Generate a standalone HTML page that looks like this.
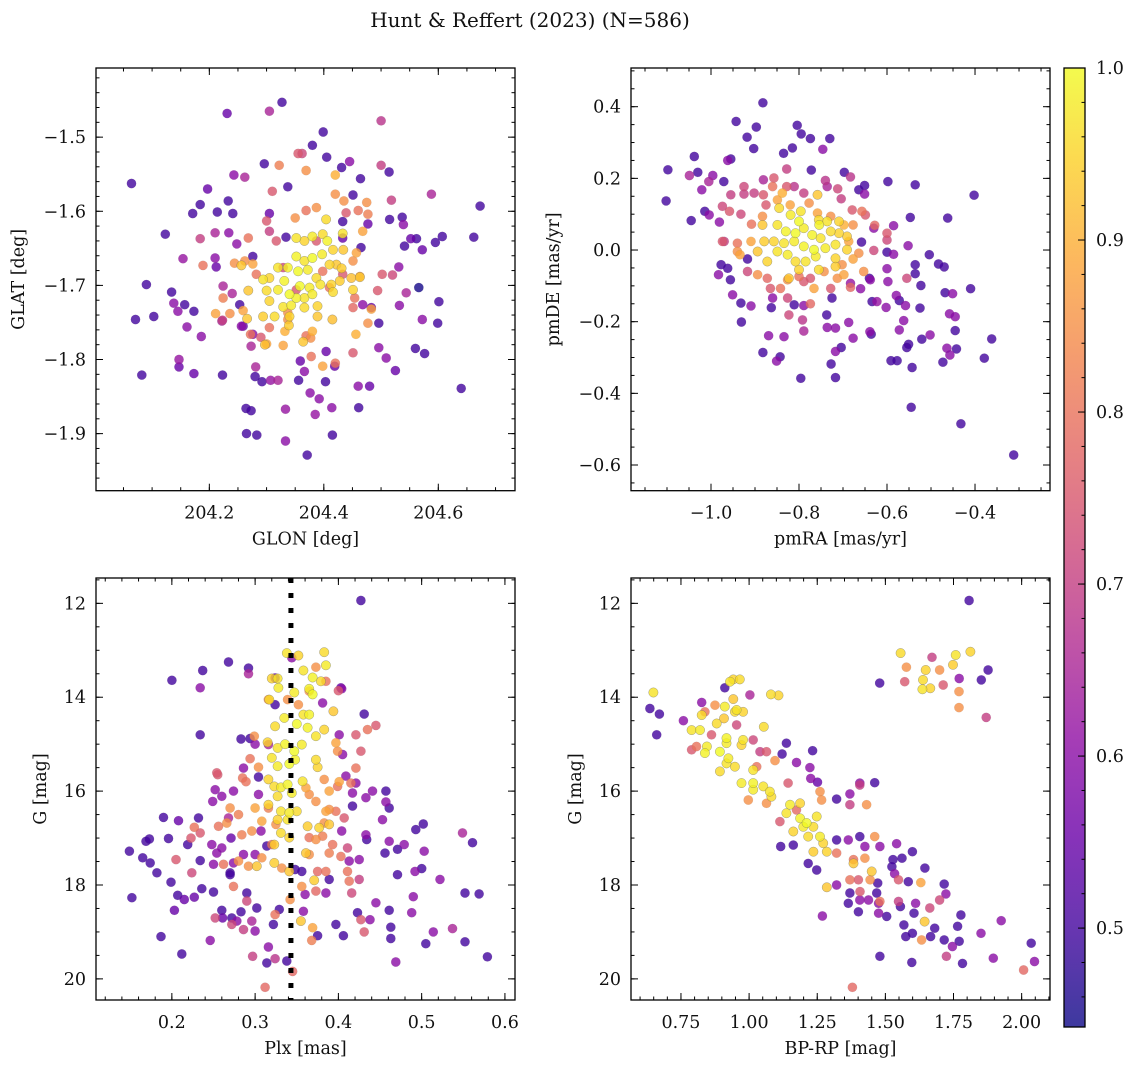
<!DOCTYPE html>
<html><head><meta charset="utf-8"><style>
html,body{margin:0;padding:0;background:#fff;}
svg{display:block;font-family:"DejaVu Serif","Liberation Serif",serif;}
</style></head><body>
<svg id="fig" width="1136" height="1067" viewBox="0 0 1136 1067" xmlns="http://www.w3.org/2000/svg">
<text x="530" y="27" text-anchor="middle" font-size="20" fill="#111">Hunt &amp; Reffert (2023) (N=586)</text>
</svg>
<script>
// ---------- DATA ----------
const skyPoints = [
[204.064,-1.5625,.5],[204.071,-1.746,.5],[204.082,-1.821,.5],[204.090,-1.699,.5],[204.103,-1.742,.5],[204.123,-1.631,.5],[204.134,-1.709,.5],[204.138,-1.724,.6],[204.145,-1.735,.6],[204.147,-1.800,.62],[204.147,-1.810,.55],[204.154,-1.664,.62],[204.157,-1.726,.5],[204.161,-1.756,.6],[204.171,-1.603,.5],[204.173,-1.735,.5],[204.173,-1.819,.55],[204.184,-1.591,.5],[204.184,-1.637,.7],[204.186,-1.769,.6],[204.197,-1.570,.55],[204.210,-1.629,.65],[204.210,-1.663,.6],[204.212,-1.675,.55],[204.214,-1.601,.5],[204.223,-1.821,.5],[204.224,-1.701,.65],[204.231,-1.468,.55],[204.233,-1.586,.5],[204.234,-1.629,.6],[204.241,-1.603,.5],[204.243,-1.551,.6],[204.253,-1.726,.5],[204.256,-1.755,.6],[204.262,-1.554,.65],[204.265,-1.900,.5],[204.264,-1.866,.5],[204.273,-1.869,.5],[204.280,-1.823,.5],[204.281,-1.810,.65],[204.283,-1.902,.5],[204.292,-1.830,.5],[204.296,-1.536,.5],[204.305,-1.465,.65],[204.307,-1.828,.62],[204.320,-1.828,.65],[204.327,-1.453,.5],[204.333,-1.867,.62],[204.333,-1.910,.6],[204.337,-1.567,.5],[204.356,-1.828,.5],[204.362,-1.522,.72],[204.371,-1.929,.5],[204.376,-1.845,.6],[204.380,-1.511,.5],[204.385,-1.874,.62],[204.392,-1.853,.6],[204.399,-1.493,.5],[204.403,-1.830,.5],[204.405,-1.527,.5],[204.414,-1.865,.6],[204.415,-1.902,.5],[204.431,-1.541,.5],[204.445,-1.533,.6],[204.460,-1.836,.6],[204.461,-1.865,.5],[204.464,-1.556,.5],[204.480,-1.836,.55],[204.500,-1.478,.68],[204.500,-1.538,.7],[204.514,-1.547,.5],[204.518,-1.585,.7],[204.515,-1.611,.5],[204.525,-1.815,.55],[204.531,-1.675,.6],[204.532,-1.727,.6],[204.537,-1.608,.5],[204.539,-1.618,.6],[204.541,-1.647,.5],[204.544,-1.710,.65],[204.552,-1.637,.55],[204.562,-1.637,.5],[204.560,-1.785,.5],[204.566,-1.703,.45],[204.572,-1.652,.55],[204.572,-1.746,.6],[204.576,-1.792,.5],[204.588,-1.577,.65],[204.595,-1.642,.5],[204.599,-1.751,.5],[204.601,-1.722,.5],[204.607,-1.634,.5],[204.640,-1.839,.5],[204.662,-1.635,.5],[204.673,-1.593,.5],[204.509,-1.798,.6],[204.496,-1.784,.6],[204.496,-1.751,.5],[204.483,-1.730,.55],[204.468,-1.726,.6],[204.419,-1.809,.55],[204.404,-1.789,.55],[204.359,-1.802,.55],[204.366,-1.816,.6],[204.276,-1.766,.6],[204.273,-1.782,.65],[204.259,-1.755,.55],[204.222,-1.748,.65],[204.240,-1.711,.65],[204.248,-1.644,.6],[204.276,-1.661,.5],[204.305,-1.603,.55],[204.334,-1.635,.5],[204.433,-1.636,.55],[204.465,-1.649,.5],[204.477,-1.617,.55],[204.451,-1.578,.5],[204.433,-1.614,.5],
[204.322,-1.538,.82],[204.310,-1.573,.75],[204.355,-1.522,.75],[204.369,-1.545,.85],[204.420,-1.551,.9],[204.420,-1.577,.85],[204.435,-1.586,.85],[204.475,-1.588,.85],[204.477,-1.604,.82],[204.468,-1.627,.88],[204.460,-1.599,.8],[204.439,-1.602,.75],[204.387,-1.595,.85],[204.369,-1.599,.8],[204.350,-1.609,.85],[204.300,-1.613,.75],[204.305,-1.627,.7],[204.317,-1.640,.75],[204.268,-1.636,.8],[204.244,-1.670,.85],[204.262,-1.667,.85],[204.276,-1.671,.88],[204.189,-1.673,.8],[204.224,-1.717,.82],[204.211,-1.738,.88],[204.236,-1.738,.85],[204.223,-1.747,.7],[204.259,-1.734,.88],[204.272,-1.766,.8],[204.290,-1.770,.75],[204.300,-1.779,.88],[204.329,-1.781,.88],[204.332,-1.762,.9],[204.337,-1.746,.85],[204.369,-1.768,.8],[204.377,-1.771,.85],[204.380,-1.762,.9],[204.378,-1.796,.8],[204.398,-1.809,.88],[204.420,-1.805,.8],[204.451,-1.791,.75],[204.456,-1.766,.9],[204.477,-1.751,.85],[204.483,-1.732,.88],[204.451,-1.730,.78],[204.454,-1.717,.8],[204.463,-1.688,.88],[204.451,-1.667,.85],[204.457,-1.656,.88],[204.502,-1.685,.75],[204.520,-1.686,.72],[204.494,-1.707,.75],[204.398,-1.681,.8],[204.352,-1.706,.75],[204.337,-1.737,.85],[204.305,-1.757,.8],[204.410,-1.703,.8],[204.387,-1.640,.75],[204.433,-1.685,.75],[204.329,-1.676,.72],[204.282,-1.685,.8],
[204.352,-1.636,.97],[204.366,-1.640,.95],[204.380,-1.634,.98],[204.398,-1.631,.96],[204.406,-1.640,.99],[204.416,-1.652,.95],[204.433,-1.630,.97],[204.434,-1.652,.93],[204.404,-1.611,.96],[204.352,-1.661,.99],[204.366,-1.667,.97],[204.380,-1.663,1.0],[204.397,-1.658,.98],[204.410,-1.672,.95],[204.422,-1.672,.93],[204.320,-1.676,.97],[204.337,-1.676,.99],[204.355,-1.681,1.0],[204.372,-1.679,.98],[204.387,-1.690,.96],[204.305,-1.690,.95],[204.294,-1.692,.97],[204.331,-1.694,.99],[204.358,-1.701,1.0],[204.375,-1.703,.98],[204.394,-1.699,.97],[204.413,-1.699,.95],[204.428,-1.694,.94],[204.448,-1.690,.92],[204.463,-1.689,.93],[204.451,-1.706,.95],[204.416,-1.709,.96],[204.268,-1.707,.93],[204.300,-1.707,.96],[204.320,-1.706,.98],[204.340,-1.712,1.0],[204.352,-1.717,.99],[204.366,-1.717,.97],[204.380,-1.712,.98],[204.305,-1.721,.95],[204.329,-1.729,.97],[204.343,-1.727,.98],[204.366,-1.730,.96],[204.389,-1.728,.95],[204.294,-1.742,.94],[204.314,-1.742,.96],[204.340,-1.742,.95],[204.389,-1.742,.93],[204.415,-1.746,.92],[204.266,-1.745,.93],[204.339,-1.754,.94],[204.364,-1.776,.93],[204.297,-1.780,.92],[204.256,-1.673,.93],[204.431,-1.677,.94]
];
const pmPoints = [
[-1.102,0.137,.5],[-1.098,0.224,.5],[-1.045,0.082,.5],[-1.038,0.261,.5],[-1.030,0.217,.5],[-1.021,0.168,.6],[-1.014,0.108,.5],[-1.004,0.098,.6],[-0.996,0.208,.6],[-0.981,0.078,.6],[-0.971,0.191,.5],[-0.962,0.250,.6],[-0.955,0.254,.5],[-0.943,0.359,.5],[-0.918,0.315,.5],[-0.903,0.283,.5],[-0.897,0.343,.5],[-0.882,0.411,.5],[-0.835,0.270,.5],[-0.815,0.285,.5],[-0.804,0.348,.5],[-0.795,0.324,.5],[-0.774,0.311,.5],[-0.772,0.223,.5],[-0.746,0.281,.6],[-0.730,0.311,.5],[-0.697,0.217,.5],[-0.664,0.168,.5],[-0.651,0.180,.5],[-0.651,0.156,.6],[-0.598,0.191,.5],[-0.536,0.182,.5],[-0.402,0.153,.5],[-0.547,0.091,.5],[-0.462,0.089,.5],[-0.585,0.068,.6],[-0.630,0.061,.6],[-0.658,0.022,.5],[-0.600,-0.006,.5],[-0.585,-0.012,.6],[-0.552,0.012,.6],[-0.504,-0.013,.5],[-0.483,-0.039,.5],[-0.470,-0.047,.5],[-0.536,-0.041,.5],[-0.536,-0.066,.5],[-0.600,-0.052,.6],[-0.598,-0.088,.6],[-0.523,-0.099,.5],[-0.468,-0.119,.5],[-0.451,-0.122,.6],[-0.410,-0.108,.5],[-0.525,-0.162,.5],[-0.558,-0.155,.6],[-0.572,-0.141,.5],[-0.579,-0.127,.6],[-0.602,-0.160,.6],[-0.623,-0.144,.62],[-0.634,-0.144,.5],[-0.638,-0.083,.6],[-0.458,-0.178,.6],[-0.445,-0.186,.6],[-0.445,-0.225,.5],[-0.502,-0.237,.6],[-0.521,-0.249,.5],[-0.551,-0.263,.5],[-0.562,-0.197,.6],[-0.572,-0.223,.6],[-0.639,-0.228,.6],[-0.636,-0.235,.5],[-0.677,-0.246,.6],[-0.687,-0.202,.6],[-0.704,-0.272,.5],[-0.717,-0.283,.6],[-0.727,-0.318,.5],[-0.717,-0.356,.5],[-0.796,-0.358,.5],[-0.843,-0.298,.5],[-0.851,-0.310,.6],[-0.882,-0.286,.5],[-0.869,-0.239,.6],[-0.834,-0.242,.6],[-0.931,-0.201,.5],[-0.909,-0.156,.6],[-0.932,-0.148,.5],[-0.951,-0.125,.6],[-0.956,-0.083,.5],[-0.983,-0.069,.6],[-0.977,-0.041,.5],[-0.962,-0.051,.5],[-0.917,-0.025,.5],[-0.860,-0.134,.6],[-0.863,-0.161,.5],[-0.811,-0.153,.5],[-0.789,-0.155,.6],[-0.789,-0.226,.65],[-0.737,-0.181,.5],[-0.736,-0.216,.6],[-0.717,-0.218,.6],[-0.725,-0.134,.5],[-0.545,-0.439,.5],[-0.432,-0.485,.5],[-0.312,-0.572,.5],[-0.362,-0.248,.5],[-0.379,-0.302,.5],[-0.473,-0.313,.5],[-0.457,-0.293,.6],[-0.442,-0.276,.5],[-0.464,-0.274,.6],[-0.543,-0.328,.5],[-0.577,-0.309,.5],[-0.591,-0.309,.5],[-0.555,-0.272,.5],[-0.660,-0.108,.6],[-0.640,-0.079,.5],[-0.683,-0.093,.62],
[-1.049,0.208,.65],[-1.005,0.191,.65],[-0.974,0.122,.72],[-0.955,0.154,.7],[-0.958,0.108,.75],[-0.974,0.024,.75],[-0.940,-0.004,.85],[-0.925,0.156,.7],[-0.932,0.100,.72],[-0.925,0.177,.72],[-0.902,0.159,.7],[-0.881,0.154,.75],[-0.881,0.196,.65],[-0.875,0.126,.75],[-0.860,0.177,.8],[-0.857,0.201,.75],[-0.828,0.226,.7],[-0.828,0.177,.75],[-0.811,0.177,.68],[-0.789,0.159,.7],[-0.740,0.194,.68],[-0.736,0.177,.65],[-0.712,0.171,.72],[-0.704,0.143,.7],[-0.683,0.204,.68],[-0.679,0.112,.75],[-0.657,0.108,.8],[-0.649,0.098,.75],[-0.628,0.069,.78],[-0.600,0.047,.75],[-0.600,0.028,.72],[-0.555,-0.079,.72],[-0.664,-0.009,.85],[-0.653,-0.060,.85],[-0.677,-0.025,.88],[-0.698,-0.069,.88],[-0.713,-0.079,.85],[-0.743,-0.060,.85],[-0.766,-0.107,.88],[-0.774,-0.079,.75],[-0.800,-0.074,.8],[-0.826,-0.083,.85],[-0.842,-0.107,.8],[-0.865,-0.107,.75],[-0.872,-0.079,.78],[-0.894,-0.069,.85],[-0.917,-0.060,.72],[-0.934,-0.013,.88],[-0.940,0.019,.8],[-0.970,0.024,.7],[-0.909,0.024,.88],[-0.908,0.072,.8],[-0.883,0.094,.85],[-0.849,0.140,.88],[-0.838,0.159,.9],[-0.820,0.126,.88],[-0.777,0.131,.85],[-0.758,0.103,.88],[-0.728,0.094,.85],[-0.698,0.070,.9],[-0.677,0.070,.85],[-0.687,0.024,.88],[-0.702,-0.041,.85],[-0.826,-0.134,.72],[-0.774,-0.150,.78],[-0.728,-0.107,.75],[-0.789,-0.088,.75],[-0.823,-0.181,.72],[-0.792,-0.195,.68],[-0.683,-0.104,.78],[-0.630,-0.001,.72],
[-0.845,0.117,.96],[-0.819,0.098,.98],[-0.796,0.108,.97],[-0.800,0.080,1.0],[-0.755,0.084,.96],[-0.758,0.154,.93],[-0.849,0.070,.97],[-0.830,0.052,.99],[-0.808,0.047,1.0],[-0.789,0.061,.98],[-0.770,0.042,.99],[-0.751,0.033,.97],[-0.728,0.052,.96],[-0.709,0.047,.95],[-0.691,0.038,.94],[-0.691,0.001,.95],[-0.717,0.015,.97],[-0.740,0.005,.98],[-0.766,0.001,1.0],[-0.789,0.010,.99],[-0.811,0.024,.98],[-0.834,0.019,.97],[-0.857,0.024,.95],[-0.879,0.024,.94],[-0.883,0.070,.93],[-0.894,-0.004,.93],[-0.872,-0.032,.95],[-0.849,-0.004,.97],[-0.826,-0.013,.98],[-0.808,-0.032,.96],[-0.785,-0.032,.97],[-0.762,-0.018,.98],[-0.717,-0.023,.95],[-0.717,-0.046,.94],[-0.823,-0.079,.93],[-0.800,-0.055,.95],[-0.755,-0.055,.96],[-0.736,0.080,.97],[-0.709,0.080,.95],[-0.754,0.070,.99]
];
const plxPoints = [
[0.427,11.94,.5],[0.200,13.64,.5],[0.237,13.43,.5],[0.234,13.80,.6],[0.268,13.25,.5],[0.292,13.38,.5],[0.292,13.50,.65],[0.403,13.80,.55],[0.431,14.36,.5],[0.234,14.80,.5],[0.283,14.89,.5],[0.294,14.88,.5],[0.300,15.00,.6],[0.149,17.28,.5],[0.152,18.27,.5],[0.165,17.42,.5],[0.169,17.07,.5],[0.173,17.02,.5],[0.174,17.53,.5],[0.182,17.74,.5],[0.187,19.10,.5],[0.190,16.56,.5],[0.196,17.01,.5],[0.199,17.94,.5],[0.203,18.54,.55],[0.207,18.22,.5],[0.208,16.63,.55],[0.212,19.47,.5],[0.215,18.31,.55],[0.219,17.14,.5],[0.227,18.26,.55],[0.232,16.57,.5],[0.234,17.48,.5],[0.236,18.08,.5],[0.246,19.18,.6],[0.248,17.14,.6],[0.250,18.15,.5],[0.254,17.32,.6],[0.260,18.54,.5],[0.261,18.70,.55],[0.270,17.74,.5],[0.271,17.00,.55],[0.272,18.70,.5],[0.278,18.77,.6],[0.283,18.57,.5],[0.290,18.17,.5],[0.296,18.77,.65],[0.300,18.98,.6],[0.302,18.49,.5],[0.304,16.07,.6],[0.314,19.66,.5],[0.316,19.32,.6],[0.322,18.84,.5],[0.329,18.52,.5],[0.338,19.62,.5],[0.358,18.56,.6],[0.375,19.08,.5],[0.397,18.84,.5],[0.406,19.08,.5],[0.423,18.59,.5],[0.438,18.74,.6],[0.445,18.38,.6],[0.461,18.54,.5],[0.463,18.90,.5],[0.463,19.14,.5],[0.469,19.64,.6],[0.488,18.59,.6],[0.490,18.25,.6],[0.492,17.71,.6],[0.503,17.28,.6],[0.505,19.25,.5],[0.514,19.00,.6],[0.522,17.88,.6],[0.537,18.93,.65],[0.549,16.89,.65],[0.552,19.21,.5],[0.552,18.17,.5],[0.561,17.10,.5],[0.569,18.19,.5],[0.579,19.53,.5],[0.500,17.65,.5],[0.502,16.70,.5],[0.493,16.82,.5],[0.471,17.78,.5],[0.471,17.24,.5],[0.479,17.14,.6],[0.456,17.32,.5],[0.461,17.07,.6],[0.457,16.00,.5],[0.457,16.23,.6],[0.461,16.36,.5],[0.453,16.61,.6],[0.441,16.00,.6],[0.433,16.14,.6],[0.421,15.83,.6],[0.417,16.04,.6],[0.417,16.32,.5],[0.401,14.80,.6],[0.405,15.22,.6],[0.409,15.68,.6],[0.404,16.85,.6],[0.433,16.93,.6],[0.434,17.03,.5],[0.425,17.46,.6],[0.413,17.49,.6],[0.389,17.88,.5],[0.385,18.17,.6],[0.360,18.20,.6],[0.348,17.67,.5],[0.356,17.71,.5],[0.307,16.85,.6],[0.314,17.17,.5],[0.300,17.35,.6],[0.286,17.35,.6],[0.274,17.53,.6],[0.270,17.78,.5],[0.260,17.21,.6],[0.250,17.56,.6],[0.268,16.57,.65],[0.252,15.97,.6],[0.249,16.22,.6],[0.260,16.11,.6],[0.274,16.00,.6],[0.286,15.51,.6],[0.304,15.70,.5],[0.316,15.01,.65],[0.324,14.16,.5],[0.381,14.12,.6],[0.404,13.82,.6],[0.324,13.59,.55],[0.344,13.16,.6],
[0.255,15.65,.75],[0.294,15.31,.8],[0.304,15.49,.85],[0.285,15.72,.8],[0.289,15.80,.8],[0.299,14.83,.85],[0.316,14.05,.85],[0.339,14.05,.85],[0.352,14.16,.85],[0.373,13.36,.85],[0.385,13.66,.8],[0.365,13.87,.85],[0.400,13.86,.75],[0.421,14.80,.75],[0.435,14.69,.8],[0.445,14.60,.75],[0.427,15.15,.75],[0.421,15.51,.8],[0.415,15.83,.8],[0.399,15.15,.85],[0.397,14.97,.88],[0.401,15.80,.88],[0.399,15.90,.8],[0.383,15.75,.85],[0.361,15.93,.88],[0.365,16.07,.85],[0.373,16.22,.85],[0.389,16.39,.85],[0.397,16.43,.8],[0.407,16.57,.75],[0.381,16.96,.82],[0.373,17.03,.85],[0.365,16.99,.8],[0.365,17.35,.85],[0.389,17.32,.82],[0.403,17.39,.8],[0.411,17.71,.8],[0.425,17.88,.7],[0.416,18.17,.72],[0.427,18.74,.75],[0.431,19.00,.75],[0.385,17.71,.8],[0.375,17.71,.78],[0.373,18.13,.78],[0.368,19.18,.82],[0.345,19.84,.78],[0.312,20.18,.78],[0.324,18.63,.8],[0.297,19.52,.7],[0.324,19.57,.68],[0.290,18.34,.72],[0.286,18.95,.7],[0.272,18.84,.72],[0.252,18.70,.72],[0.227,16.77,.8],[0.234,16.89,.75],[0.223,17.00,.75],[0.205,17.46,.75],[0.224,17.74,.72],[0.254,15.61,.75],[0.256,16.75,.8],[0.266,16.68,.85],[0.270,16.36,.85],[0.280,16.50,.82],[0.284,16.93,.82],[0.300,16.36,.88],[0.296,16.85,.85],[0.308,16.64,.88],[0.316,16.36,.82],[0.325,16.71,.85],[0.320,17.14,.8],[0.292,17.60,.85],[0.274,18.03,.8],[0.262,17.56,.8],[0.280,17.49,.85],[0.308,17.42,.85],[0.332,17.64,.85],[0.342,18.31,.85],[0.356,18.03,.85],[0.383,16.68,.85],[0.385,16.43,.88],[0.393,17.14,.8],[0.411,17.21,.72],[0.389,16.00,.88],[0.413,17.92,.8],[0.369,18.91,.88],
[0.338,13.06,.97],[0.352,13.11,.95],[0.383,13.04,.96],[0.385,13.32,.98],[0.358,13.43,.97],[0.369,13.58,.99],[0.379,13.66,.96],[0.320,13.60,.95],[0.327,13.60,.97],[0.328,13.80,.98],[0.365,13.82,.99],[0.369,13.94,1.0],[0.347,13.90,.98],[0.317,14.05,.96],[0.394,14.30,.93],[0.365,14.37,.99],[0.358,14.37,.97],[0.324,14.62,.96],[0.335,14.44,.98],[0.350,14.57,1.0],[0.363,14.65,.99],[0.383,14.69,.95],[0.373,14.83,.97],[0.336,15.00,.99],[0.315,14.96,.95],[0.327,15.08,.97],[0.356,15.01,.98],[0.347,15.15,1.0],[0.373,15.33,.96],[0.375,15.49,.95],[0.320,15.29,.97],[0.327,15.47,.98],[0.348,15.33,.99],[0.341,15.42,1.0],[0.316,15.75,.95],[0.323,15.90,.96],[0.331,15.92,.98],[0.339,15.86,.99],[0.357,15.79,.97],[0.344,16.04,.98],[0.327,16.11,.96],[0.316,16.29,.95],[0.331,16.43,.97],[0.341,16.46,.98],[0.350,16.43,.96],[0.339,16.61,.97],[0.327,16.61,.95],[0.363,16.75,.94],[0.377,16.78,.95],[0.389,16.71,.93],[0.341,16.99,.95],[0.323,17.14,.94],[0.361,17.32,.93],[0.323,17.53,.94],[0.341,17.71,.93],[0.302,17.60,.93],[0.371,17.90,.94],[0.355,18.77,.93],[0.331,16.89,.96]
];
const cmdPoints = [
[0.636,14.24,.5],[0.671,14.36,.5],[0.661,14.80,.5],[0.759,14.50,.6],[0.826,14.11,.6],[0.911,13.80,.5],[1.003,13.95,.65],[1.137,14.98,.5],[1.121,15.21,.5],[1.233,15.14,.5],[1.174,15.39,.6],[1.223,15.50,.6],[1.226,15.73,.6],[1.251,15.81,.55],[1.321,16.17,.5],[1.370,16.06,.6],[1.406,15.83,.6],[1.461,15.82,.5],[1.479,13.70,.5],[1.807,11.94,.5],[1.877,13.42,.5],[1.852,13.63,.5],[1.771,13.60,.6],[1.116,17.18,.5],[1.162,17.15,.5],[1.217,17.54,.5],[1.248,17.68,.5],[1.321,17.04,.5],[1.364,17.04,.6],[1.406,16.97,.5],[1.425,17.18,.6],[1.480,17.18,.6],[1.541,17.12,.6],[1.599,17.29,.5],[1.561,17.43,.5],[1.528,17.46,.5],[1.524,17.61,.5],[1.534,17.76,.6],[1.645,17.64,.5],[1.584,17.93,.5],[1.472,17.96,.5],[1.370,18.17,.5],[1.364,18.39,.5],[1.401,18.57,.5],[1.438,18.32,.6],[1.468,18.17,.5],[1.475,18.39,.6],[1.505,18.67,.5],[1.475,18.60,.6],[1.568,18.85,.5],[1.605,18.60,.5],[1.599,19.03,.5],[1.555,18.46,.5],[1.611,18.39,.6],[1.716,17.98,.5],[1.722,18.19,.6],[1.681,18.92,.5],[1.716,19.17,.5],[1.765,18.88,.5],[1.777,18.64,.5],[1.771,19.20,.5],[1.746,19.31,.6],[1.783,19.67,.5],[1.597,19.65,.5],[1.480,19.52,.5],[1.269,18.66,.6],[1.851,19.03,.6],[1.925,18.76,.6],[2.035,19.24,.5],[2.047,19.63,.6],[1.321,18.00,.6],[1.406,18.32,.6],[1.666,19.10,.5],[1.575,19.10,.5],
[0.875,14.17,.85],[0.838,14.31,.8],[0.807,15.05,.8],[0.789,15.12,.75],[0.862,14.80,.75],[0.954,14.59,.72],[1.015,14.91,.72],[1.040,15.16,.7],[1.064,15.16,.75],[1.095,15.35,.85],[1.028,15.48,.8],[0.997,16.19,.85],[1.064,16.26,.85],[1.143,15.83,.75],[1.260,16.01,.85],[1.266,16.19,.85],[1.431,16.29,.85],[1.370,16.29,.7],[1.406,15.87,.7],[1.461,16.97,.85],[1.113,16.65,.75],[1.174,16.40,.78],[1.321,17.32,.8],[1.383,17.46,.8],[1.425,17.43,.85],[1.370,17.89,.8],[1.401,17.89,.75],[1.444,17.89,.85],[1.407,18.14,.75],[1.480,18.35,.8],[1.630,17.95,.88],[1.633,19.17,.85],[1.663,18.49,.72],[1.699,18.32,.72],[2.007,19.81,.78],[1.379,20.18,.78],[1.571,13.67,.75],[1.577,13.36,.85],[1.699,13.42,.85],[1.712,13.74,.75],[1.770,13.88,.85],[1.770,14.22,.85],[1.870,14.43,.7],[1.671,13.15,.7],[1.548,17.89,.75],[1.548,18.35,.7],[1.724,19.52,.7],[1.896,19.56,.6],
[0.649,13.90,.97],[0.942,13.62,.95],[0.966,13.62,.96],[0.930,13.67,.97],[1.080,13.94,.96],[1.108,13.96,.95],[0.942,14.04,.93],[0.954,14.27,.97],[0.911,14.20,.98],[0.826,14.38,.96],[0.789,14.70,.97],[0.820,14.70,.98],[0.881,14.56,.96],[0.908,14.45,.93],[0.978,14.31,.95],[1.054,14.63,.96],[0.917,14.87,.99],[0.978,14.91,.97],[0.845,15.05,.98],[0.838,15.19,.99],[0.893,15.16,1.0],[0.924,15.30,.98],[0.917,15.41,.97],[0.948,15.48,.96],[0.972,15.02,.95],[0.972,15.83,.98],[1.015,15.83,.99],[1.052,15.90,.97],[1.015,15.97,.98],[1.082,16.12,.96],[1.076,16.01,.97],[1.150,16.29,.98],[1.187,16.26,.95],[1.137,16.47,.97],[1.187,16.58,.99],[1.211,16.68,1.0],[1.199,16.76,.98],[1.236,16.76,.96],[1.248,16.54,.97],[1.162,16.86,.95],[1.217,16.97,.96],[1.260,16.97,.98],[1.272,17.11,.95],[1.236,17.29,.94],[1.285,17.29,.95],[1.383,17.54,.93],[1.450,17.71,.93],[1.285,18.05,.93],[1.556,13.06,.96],[1.812,13.03,.95],[1.758,13.10,.97],[1.648,13.42,.95],[1.638,13.63,.96],[1.636,13.83,.97],[1.665,13.81,.95],[1.748,13.31,.94],[1.644,18.78,.93],[0.893,15.58,.96],[1.015,15.55,.97],[0.917,14.98,.98],[0.948,14.31,.96]
];
const plxCut = 0.343;
const cbarTicks = [0.5,0.6,0.7,0.8,0.9,1.0];
const cbarMin = 0.4425, cbarMax = 1.0;

// ---------- helpers ----------
const NS = 'http://www.w3.org/2000/svg';
const svg = document.getElementById('fig');
function mk(tag, attrs, parent){const e=document.createElementNS(NS,tag);for(const k in attrs)e.setAttribute(k,attrs[k]);(parent||svg).appendChild(e);return e;}
const plasmaStops=[[13,8,135],[65,4,157],[106,0,168],[143,13,164],[177,42,144],[204,71,120],[225,100,98],[242,132,75],[252,166,54],[252,206,37],[240,249,33]];
function plasma(t){t=Math.max(0,Math.min(1,t));const f=t*10,i=Math.min(9,Math.floor(f)),r=f-i;const a=plasmaStops[i],b=plasmaStops[i+1];return 'rgb('+a.map((v,k)=>Math.round(v+(b[k]-v)*r)).join(',')+')';}
function fmt(v,d){let s=v.toFixed(d);if(v<0)s='\u2212'+s.slice(1);return s;}
const FS=17.5;

function panel(cfg){
  const {L,T,W,H,x0,x1,y0,y1,name}=cfg;
  const sx=v=>L+(v-x0)/(x1-x0)*W, sy=v=>T+(v-y0)/(y1-y0)*H;
  const g=mk('g',{});
  
  
  const clipId=name+'-clip';
  const cp=mk('clipPath',{id:clipId},g);mk('rect',{x:L,y:T,width:W,height:H},cp);
  const pg=mk('g',{'clip-path':'url(#'+clipId+')'},g);
  
  
  const pts=cfg.data.slice().sort((a,b)=>a[2]-b[2]);
  for(const p of pts){
    const c=mk('circle',{cx:sx(p[0]).toFixed(1),cy:sy(p[1]).toFixed(1),r:4.7,fill:plasma((p[2]-cbarMin)/(cbarMax-cbarMin)),'fill-opacity':0.8,stroke:'#666','stroke-opacity':p[2]>0.9?0.6:0.15,'stroke-width':0.5},pg);
    
    
  }
  if(cfg.extra)cfg.extra(g,sx,sy);
  const tg=mk('g',{stroke:'#000','stroke-width':1},g);
  
  
  const eps=1e-9;
  for(let v=Math.ceil(Math.min(x0,x1)/cfg.xmin-eps)*cfg.xmin;v<=Math.max(x0,x1)+eps;v+=cfg.xmin){const x=sx(v);mk('line',{x1:x,x2:x,y1:T+H,y2:T+H-3.5},tg);mk('line',{x1:x,x2:x,y1:T,y2:T+3.5},tg);}
  for(let v=Math.ceil(Math.min(y0,y1)/cfg.ymin-eps)*cfg.ymin;v<=Math.max(y0,y1)+eps;v+=cfg.ymin){const y=sy(v);mk('line',{x1:L,x2:L+3.5,y1:y,y2:y},tg);mk('line',{x1:L+W,x2:L+W-3.5,y1:y,y2:y},tg);}
  for(const v of cfg.xt){const x=sx(v);mk('line',{x1:x,x2:x,y1:T+H,y2:T+H-7},tg);mk('line',{x1:x,x2:x,y1:T,y2:T+7},tg);
    const t=mk('text',{x:x,y:T+H+28,'text-anchor':'middle','font-size':FS,fill:'#111'},g);t.textContent=fmt(v,cfg.xd);
    
    }
  for(const v of cfg.yt){const y=sy(v);mk('line',{x1:L,x2:L+7,y1:y,y2:y},tg);mk('line',{x1:L+W,x2:L+W-7,y1:y,y2:y},tg);
    const t=mk('text',{x:L-10,y:y+6,'text-anchor':'end','font-size':FS,fill:'#111'},g);t.textContent=fmt(v,cfg.yd);
    
    }
  const fr=mk('rect',{x:L,y:T,width:W,height:H,fill:'none',stroke:'#000','stroke-width':1.3},g);
  
  
  const xl=mk('text',{x:L+W/2,y:T+H+54,'text-anchor':'middle','font-size':FS,fill:'#111'},g);xl.textContent=cfg.xl;
  
  
  const yl=mk('text',{x:cfg.ylx,y:T+H/2,'text-anchor':'middle','font-size':FS,fill:'#111',transform:'rotate(-90 '+cfg.ylx+' '+(T+H/2)+')'},g);yl.textContent=cfg.yl;
  
  
}

panel({name:'sky',L:96,T:68,W:419,H:422.7,x0:204.002,x1:204.734,y0:-1.4067,y1:-1.977,data:skyPoints,
  xt:[204.2,204.4,204.6],xd:1,xmin:0.05,yt:[-1.5,-1.6,-1.7,-1.8,-1.9],yd:1,ymin:0.02,xl:'GLON [deg]',yl:'GLAT [deg]',ylx:24});
panel({name:'pm',L:631,T:68,W:419,H:422.7,x0:-1.1818,x1:-0.2296,y0:0.508,y1:-0.6717,data:pmPoints,
  xt:[-1.0,-0.8,-0.6,-0.4],xd:1,xmin:0.05,yt:[0.4,0.2,0.0,-0.2,-0.4,-0.6],yd:1,ymin:0.05,xl:'pmRA [mas/yr]',yl:'pmDE [mas/yr]',ylx:559});
panel({name:'plx',L:96,T:578,W:419,H:422,x0:0.1089,x1:0.6121,y0:11.46,y1:20.45,data:plxPoints,
  xt:[0.2,0.3,0.4,0.5,0.6],xd:1,xmin:0.02,yt:[12,14,16,18,20],yd:0,ymin:0.5,xl:'Plx [mas]',yl:'G [mag]',ylx:46,
  extra:(g,sx,sy)=>{const l=mk('line',{x1:sx(plxCut),x2:sx(plxCut),y1:578,y2:1000,stroke:'#000','stroke-width':5,'stroke-dasharray':'5,10'},g);
    
    }});
panel({name:'cmd',L:631,T:578,W:419,H:422,x0:0.5667,x1:2.104,y0:11.46,y1:20.45,data:cmdPoints,
  xt:[0.75,1.0,1.25,1.5,1.75,2.0],xd:2,xmin:0.05,yt:[12,14,16,18,20],yd:0,ymin:0.5,xl:'BP-RP [mag]',yl:'G [mag]',ylx:581});

// ---------- colorbar ----------
(function(){
  const L=1064,T=68,W=21,H=959;
  const cy=v=>T+(cbarMax-v)/(cbarMax-cbarMin)*H;
  const defs=mk('defs',{});const lg=mk('linearGradient',{id:'cbg',x1:0,y1:1,x2:0,y2:0},defs);
  for(let i=0;i<=20;i++){mk('stop',{offset:(i/20),'stop-color':plasma(i/20),'stop-opacity':0.8},lg);}
  const g=mk('g',{});
  
  
  mk('rect',{x:L,y:T,width:W,height:H,fill:'url(#cbg)'},g);
  for(let v=0.46;v<=1.0001;v+=0.02){const y=cy(v);mk('line',{x1:L+W,x2:L+W-3.5,y1:y,y2:y,stroke:'#000','stroke-width':1},g);}
  for(const v of cbarTicks){const y=cy(v);mk('line',{x1:L+W,x2:L+W-7,y1:y,y2:y,stroke:'#000','stroke-width':1},g);
    const t=mk('text',{x:L+W+11,y:y+6,'font-size':FS,fill:'#111'},g);t.textContent=v.toFixed(1);
    
    }
  mk('rect',{x:L,y:T,width:W,height:H,fill:'none',stroke:'#000','stroke-width':1.3},g);
})();
</script>
</body></html>
